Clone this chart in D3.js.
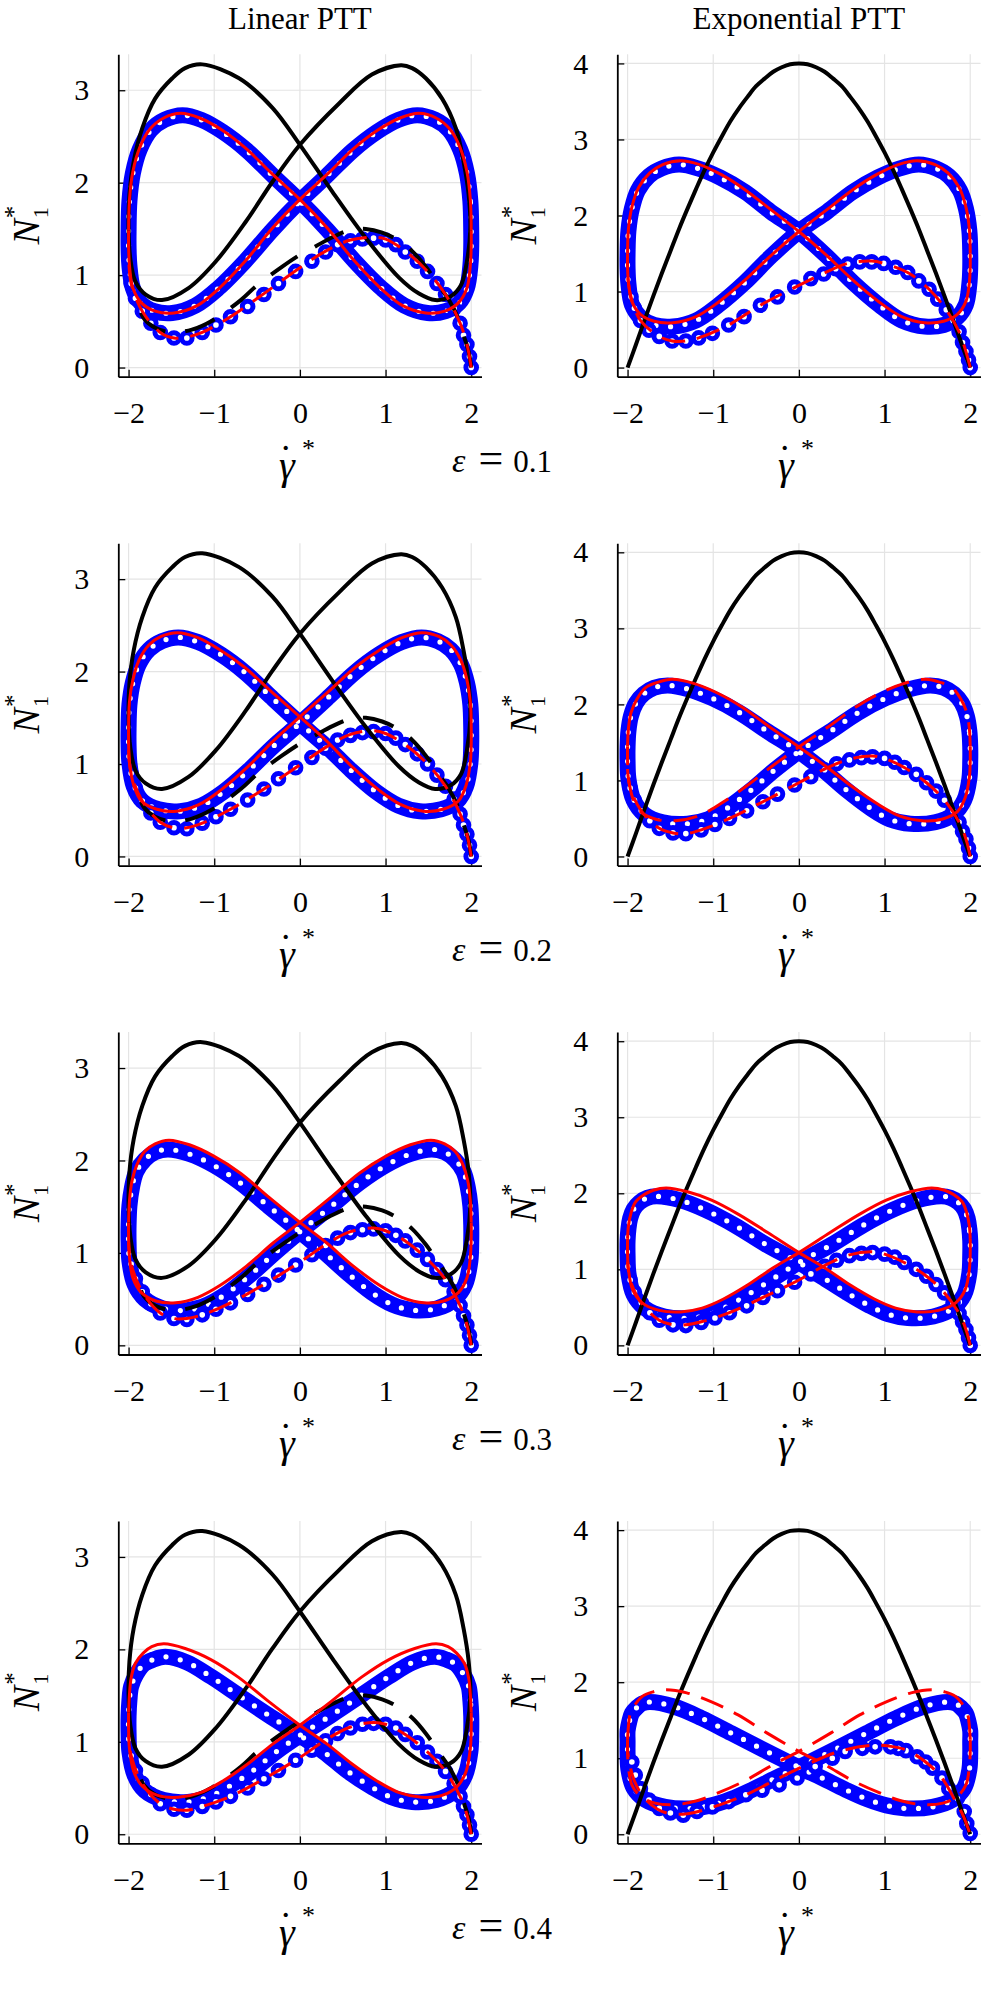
<!DOCTYPE html>
<html><head><meta charset="utf-8">
<script src="https://cdn.jsdelivr.net/npm/d3@7"></script>
<style>body{margin:0;background:#fff} svg text{font-family:'Liberation Serif','DejaVu Serif',serif}</style>
</head><body>
<script>
// ---------- data ----------
const modelTitles = ["Linear PTT", "Exponential PTT"];
const epsilonValues = ["0.1", "0.2", "0.3", "0.4"];
const rateTicks = [-2, -1, 0, 1, 2];
const n1TicksLinear = [0, 1, 2, 3];
const n1TicksExp = [0, 1, 2, 3, 4];

// black reference curves (same in every row)
const blackLoopLinear = [[-1.14,3.28],[-0.71,3.13],[-0.32,2.81],[0,2.41],[0.38,1.90],[0.77,1.40],[1.16,0.97],[1.39,0.80],[1.58,0.73],[1.76,0.77],[1.88,0.89],[1.95,1.15],[1.99,1.51],[1.97,1.87],[1.91,2.23],[1.82,2.59],[1.66,2.91],[1.47,3.13],[1.31,3.24],[1.18,3.27],[0.84,3.17],[0.46,2.86],[0,2.41],[-0.32,2.01],[-0.63,1.58],[-0.98,1.15],[-1.30,0.86],[-1.61,0.73],[-1.80,0.79],[-1.92,0.93],[-1.98,1.18],[-2.00,1.51],[-1.99,1.87],[-1.94,2.23],[-1.84,2.59],[-1.69,2.91],[-1.49,3.13],[-1.34,3.24]];
const blackStartLinear = [[2.00,0.00],[1.97,0.17],[1.91,0.35],[1.84,0.55],[1.74,0.73],[1.62,0.89],[1.47,1.09],[1.31,1.26],[1.14,1.38],[0.96,1.46],[0.77,1.50],[0.59,1.49],[0.38,1.41],[0.18,1.31],[0,1.22],[-0.21,1.09],[-0.50,0.89],[-0.69,0.73],[-1.02,0.51],[-1.26,0.41],[-1.49,0.38],[-1.69,0.43],[-1.82,0.53],[-1.90,0.71]];
const blackCurveExp = [[-2.0,0.00],[-1.9,0.31],[-1.8,0.63],[-1.7,0.94],[-1.6,1.24],[-1.5,1.53],[-1.4,1.82],[-1.3,2.09],[-1.2,2.35],[-1.1,2.60],[-1.0,2.83],[-0.9,3.04],[-0.8,3.24],[-0.7,3.41],[-0.6,3.56],[-0.5,3.70],[-0.4,3.80],[-0.3,3.89],[-0.2,3.95],[-0.1,3.99],[0.0,4.00],[0.1,3.99],[0.2,3.95],[0.3,3.89],[0.4,3.80],[0.5,3.70],[0.6,3.56],[0.7,3.41],[0.8,3.24],[0.9,3.04],[1.0,2.83],[1.1,2.60],[1.2,2.35],[1.3,2.09],[1.4,1.82],[1.5,1.53],[1.6,1.24],[1.7,0.94],[1.8,0.63],[1.9,0.31],[2.0,0.00]];

// eps = 0.1
const blueLoopLin01 = [[2.00,1.47],[1.99,1.80],[1.95,2.10],[1.87,2.36],[1.74,2.57],[1.58,2.68],[1.37,2.73],[1.15,2.68],[0.90,2.55],[0.62,2.35],[0.32,2.08],[0.00,1.80],[-0.32,1.49],[-0.64,1.15],[-0.95,0.86],[-1.22,0.67],[-1.49,0.59],[-1.70,0.61],[-1.86,0.70],[-1.95,0.86],[-1.99,1.10],[-2.00,1.30],
 [-2.00,1.47],[-1.99,1.80],[-1.95,2.10],[-1.87,2.36],[-1.74,2.57],[-1.58,2.68],[-1.37,2.73],[-1.15,2.68],[-0.90,2.55],[-0.62,2.35],[-0.32,2.08],[0.00,1.80],[0.32,1.49],[0.64,1.15],[0.95,0.86],[1.22,0.67],[1.49,0.59],[1.70,0.61],[1.86,0.70],[1.95,0.86],[1.99,1.10],[2.00,1.30]];
const redLoopLin01 = [[2.00,1.48],[1.99,1.81],[1.95,2.12],[1.87,2.38],[1.75,2.58],[1.59,2.70],[1.39,2.75],[1.17,2.70],[0.91,2.57],[0.63,2.37],[0.33,2.10],[0.00,1.82],[-0.32,1.51],[-0.63,1.16],[-0.94,0.86],[-1.20,0.67],[-1.47,0.59],[-1.69,0.61],[-1.85,0.70],[-1.95,0.86],[-1.99,1.11],[-2.00,1.31],
 [-2.00,1.48],[-1.99,1.81],[-1.95,2.12],[-1.87,2.38],[-1.75,2.58],[-1.59,2.70],[-1.39,2.75],[-1.17,2.70],[-0.91,2.57],[-0.63,2.37],[-0.33,2.10],[0.00,1.82],[0.32,1.51],[0.63,1.16],[0.94,0.86],[1.20,0.67],[1.47,0.59],[1.69,0.61],[1.85,0.70],[1.95,0.86],[1.99,1.11],[2.00,1.31]];
const blueStartLin01 = [[2.00,0.00],[1.98,0.12],[1.95,0.25],[1.91,0.35],[1.87,0.48],[1.80,0.64],[1.70,0.79],[1.60,0.91],[1.49,1.04],[1.37,1.15],[1.23,1.25],[1.12,1.33],[1.00,1.38],[0.86,1.40],[0.73,1.39],[0.59,1.37],[0.44,1.33],[0.30,1.25],[0.14,1.15],[-0.05,1.04],[-0.25,0.91],[-0.42,0.79],[-0.61,0.66],[-0.81,0.55],[-0.98,0.46],[-1.14,0.38],[-1.32,0.32],[-1.47,0.32],[-1.63,0.38],[-1.74,0.48],[-1.84,0.61],[-1.92,0.75],[-1.97,0.91]];
const redStartLin01 = [[2.00,0.00],[1.95,0.25],[1.87,0.48],[1.70,0.79],[1.49,1.04],[1.23,1.26],[1.00,1.39],[0.86,1.41],[0.59,1.38],[0.30,1.26],[0.00,1.08],[-0.42,0.80],[-0.81,0.55],[-1.14,0.38],[-1.32,0.33],[-1.47,0.32],[-1.63,0.38],[-1.84,0.61],[-1.97,0.91],[-2.00,1.20]];

const blueLoopExp01 = [[2.00,1.50],[1.99,1.80],[1.95,2.09],[1.88,2.33],[1.75,2.52],[1.60,2.62],[1.40,2.67],[1.18,2.62],[0.92,2.50],[0.63,2.31],[0.33,2.05],[0.00,1.79],[-0.32,1.47],[-0.63,1.12],[-0.94,0.82],[-1.20,0.62],[-1.47,0.54],[-1.69,0.56],[-1.85,0.66],[-1.95,0.83],[-1.99,1.10],[-2.00,1.31],
 [-2.00,1.50],[-1.99,1.80],[-1.95,2.09],[-1.88,2.33],[-1.75,2.52],[-1.60,2.62],[-1.40,2.67],[-1.18,2.62],[-0.92,2.50],[-0.63,2.31],[-0.33,2.05],[0.00,1.79],[0.32,1.47],[0.63,1.12],[0.94,0.82],[1.20,0.62],[1.47,0.54],[1.69,0.56],[1.85,0.66],[1.95,0.83],[1.99,1.10],[2.00,1.31]];
const redLoopExp01 = [[2.00,1.50],[1.99,1.82],[1.95,2.11],[1.87,2.37],[1.74,2.56],[1.59,2.67],[1.38,2.72],[1.16,2.67],[0.91,2.54],[0.63,2.34],[0.32,2.07],[0.00,1.79],[-0.32,1.48],[-0.63,1.15],[-0.94,0.86],[-1.20,0.67],[-1.47,0.59],[-1.69,0.61],[-1.85,0.70],[-1.95,0.87],[-1.99,1.12],[-2.00,1.32],
 [-2.00,1.50],[-1.99,1.82],[-1.95,2.11],[-1.87,2.37],[-1.74,2.56],[-1.59,2.67],[-1.38,2.72],[-1.16,2.67],[-0.91,2.54],[-0.63,2.34],[-0.32,2.07],[0.00,1.79],[0.32,1.48],[0.63,1.15],[0.94,0.86],[1.20,0.67],[1.47,0.59],[1.69,0.61],[1.85,0.70],[1.95,0.87],[1.99,1.12],[2.00,1.32]];
const blueStartExp01 = [[2.00,0.00],[1.98,0.10],[1.95,0.21],[1.91,0.33],[1.87,0.47],[1.80,0.62],[1.72,0.76],[1.62,0.90],[1.52,1.03],[1.40,1.14],[1.27,1.25],[1.13,1.32],[0.99,1.37],[0.85,1.39],[0.71,1.39],[0.57,1.36],[0.43,1.30],[0.29,1.23],[0.14,1.17],[-0.05,1.06],[-0.25,0.93],[-0.45,0.82],[-0.64,0.67],[-0.82,0.56],[-1.01,0.45],[-1.17,0.39],[-1.32,0.35],[-1.48,0.35],[-1.63,0.41],[-1.75,0.49],[-1.85,0.62],[-1.92,0.78],[-1.96,0.93]];
const redStartExp01 = [[2.00,0.00],[1.95,0.21],[1.87,0.47],[1.72,0.76],[1.52,1.03],[1.27,1.25],[0.99,1.37],[0.85,1.40],[0.57,1.37],[0.29,1.24],[0.00,1.08],[-0.45,0.82],[-0.82,0.56],[-1.17,0.39],[-1.32,0.35],[-1.48,0.35],[-1.63,0.41],[-1.85,0.62],[-1.96,0.93],[-2.00,1.20]];

// eps = 0.2
const blueLoopLin02 = [[2.00,1.38],[1.99,1.64],[1.95,1.88],[1.88,2.08],[1.76,2.24],[1.61,2.33],[1.42,2.37],[1.19,2.32],[0.93,2.19],[0.64,1.99],[0.33,1.72],[0.00,1.44],[-0.30,1.20],[-0.60,0.93],[-0.89,0.70],[-1.15,0.55],[-1.40,0.49],[-1.65,0.51],[-1.84,0.60],[-1.94,0.76],[-1.99,1.01],[-2.00,1.21],
 [-2.00,1.38],[-1.99,1.64],[-1.95,1.88],[-1.88,2.08],[-1.76,2.24],[-1.61,2.33],[-1.42,2.37],[-1.19,2.32],[-0.93,2.19],[-0.64,1.99],[-0.33,1.72],[0.00,1.44],[0.30,1.20],[0.60,0.93],[0.89,0.70],[1.15,0.55],[1.40,0.49],[1.65,0.51],[1.84,0.60],[1.94,0.76],[1.99,1.01],[2.00,1.21]];
const redLoopLin02 = [[2.00,1.40],[1.99,1.67],[1.95,1.91],[1.88,2.12],[1.76,2.29],[1.62,2.38],[1.43,2.42],[1.20,2.37],[0.94,2.24],[0.65,2.05],[0.33,1.78],[0.00,1.51],[-0.31,1.25],[-0.62,0.96],[-0.92,0.72],[-1.18,0.56],[-1.44,0.49],[-1.67,0.51],[-1.85,0.60],[-1.94,0.77],[-1.99,1.02],[-2.00,1.23],
 [-2.00,1.40],[-1.99,1.67],[-1.95,1.91],[-1.88,2.12],[-1.76,2.29],[-1.62,2.38],[-1.43,2.42],[-1.20,2.37],[-0.94,2.24],[-0.65,2.05],[-0.33,1.78],[0.00,1.51],[0.31,1.25],[0.62,0.96],[0.92,0.72],[1.18,0.56],[1.44,0.49],[1.67,0.51],[1.85,0.60],[1.94,0.77],[1.99,1.02],[2.00,1.23]];
const blueStartLin02 = [[2.00,0.00],[1.98,0.12],[1.95,0.24],[1.91,0.34],[1.87,0.46],[1.80,0.62],[1.70,0.76],[1.60,0.88],[1.49,1.00],[1.37,1.11],[1.23,1.21],[1.12,1.28],[1.00,1.33],[0.86,1.35],[0.73,1.34],[0.59,1.31],[0.44,1.26],[0.30,1.17],[0.14,1.07],[-0.05,0.96],[-0.25,0.84],[-0.42,0.73],[-0.61,0.61],[-0.81,0.51],[-0.98,0.43],[-1.14,0.36],[-1.32,0.30],[-1.47,0.31],[-1.63,0.37],[-1.74,0.47],[-1.84,0.60],[-1.92,0.74],[-1.97,0.90]];
const redStartLin02 = [[2.00,0.00],[1.95,0.24],[1.87,0.46],[1.70,0.76],[1.49,1.00],[1.23,1.21],[1.00,1.33],[0.86,1.36],[0.59,1.32],[0.30,1.18],[0.00,0.99],[-0.42,0.73],[-0.81,0.51],[-1.14,0.36],[-1.32,0.31],[-1.47,0.31],[-1.63,0.37],[-1.84,0.60],[-1.97,0.90],[-2.00,1.15]];

const blueLoopExp02 = [[2.00,1.44],[1.99,1.65],[1.96,1.85],[1.90,2.02],[1.81,2.14],[1.69,2.22],[1.53,2.25],[1.29,2.20],[1.01,2.08],[0.69,1.89],[0.36,1.64],[0.00,1.38],[-0.28,1.14],[-0.56,0.87],[-0.83,0.64],[-1.06,0.49],[-1.30,0.43],[-1.59,0.45],[-1.81,0.56],[-1.93,0.74],[-1.99,1.02],[-2.00,1.25],
 [-2.00,1.44],[-1.99,1.65],[-1.96,1.85],[-1.90,2.02],[-1.81,2.14],[-1.69,2.22],[-1.53,2.25],[-1.29,2.20],[-1.01,2.08],[-0.69,1.89],[-0.36,1.64],[0.00,1.38],[0.28,1.14],[0.56,0.87],[0.83,0.64],[1.06,0.49],[1.30,0.43],[1.59,0.45],[1.81,0.56],[1.93,0.74],[1.99,1.02],[2.00,1.25]];
const redLoopExp02 = [[2.00,1.45],[1.99,1.68],[1.96,1.89],[1.89,2.07],[1.79,2.22],[1.65,2.29],[1.48,2.33],[1.24,2.28],[0.97,2.16],[0.67,1.97],[0.35,1.71],[0.00,1.44],[-0.31,1.19],[-0.62,0.92],[-0.92,0.69],[-1.18,0.53],[-1.44,0.47],[-1.67,0.49],[-1.85,0.59],[-1.94,0.77],[-1.99,1.04],[-2.00,1.26],
 [-2.00,1.45],[-1.99,1.68],[-1.96,1.89],[-1.89,2.07],[-1.79,2.22],[-1.65,2.29],[-1.48,2.33],[-1.24,2.28],[-0.97,2.16],[-0.67,1.97],[-0.35,1.71],[0.00,1.44],[0.31,1.19],[0.62,0.92],[0.92,0.69],[1.18,0.53],[1.44,0.47],[1.67,0.49],[1.85,0.59],[1.94,0.77],[1.99,1.04],[2.00,1.26]];
const blueStartExp02 = [[2.00,0.00],[1.98,0.11],[1.95,0.23],[1.91,0.33],[1.87,0.45],[1.80,0.60],[1.70,0.74],[1.60,0.86],[1.49,0.97],[1.37,1.08],[1.23,1.17],[1.12,1.24],[1.00,1.29],[0.86,1.31],[0.73,1.30],[0.59,1.27],[0.44,1.22],[0.30,1.14],[0.14,1.05],[-0.05,0.94],[-0.25,0.82],[-0.42,0.72],[-0.61,0.60],[-0.81,0.50],[-0.98,0.42],[-1.14,0.35],[-1.32,0.30],[-1.47,0.31],[-1.63,0.37],[-1.74,0.47],[-1.84,0.60],[-1.92,0.74],[-1.97,0.90]];
const redStartExp02 = [[2.00,0.00],[1.95,0.23],[1.87,0.45],[1.70,0.74],[1.49,0.97],[1.23,1.17],[1.00,1.29],[0.86,1.32],[0.59,1.28],[0.30,1.15],[0.00,0.97],[-0.42,0.72],[-0.81,0.50],[-1.14,0.35],[-1.32,0.30],[-1.47,0.31],[-1.63,0.37],[-1.84,0.60],[-1.97,0.90],[-2.00,1.15]];

// eps = 0.3
const blueLoopLin03 = [[2.00,1.30],[1.99,1.51],[1.96,1.71],[1.91,1.88],[1.81,2.01],[1.69,2.09],[1.54,2.12],[1.29,2.07],[1.01,1.95],[0.70,1.76],[0.36,1.50],[0.00,1.23],[-0.28,1.01],[-0.57,0.77],[-0.84,0.57],[-1.08,0.44],[-1.32,0.38],[-1.60,0.40],[-1.81,0.50],[-1.93,0.66],[-1.99,0.91],[-2.00,1.12],
 [-2.00,1.30],[-1.99,1.51],[-1.96,1.71],[-1.91,1.88],[-1.81,2.01],[-1.69,2.09],[-1.54,2.12],[-1.29,2.07],[-1.01,1.95],[-0.70,1.76],[-0.36,1.50],[0.00,1.23],[0.28,1.01],[0.57,0.77],[0.84,0.57],[1.08,0.44],[1.32,0.38],[1.60,0.40],[1.81,0.50],[1.93,0.66],[1.99,0.91],[2.00,1.12]];
const redLoopLin03 = [[2.00,1.33],[1.99,1.56],[1.96,1.78],[1.90,1.96],[1.81,2.10],[1.69,2.18],[1.53,2.22],[1.29,2.17],[1.01,2.05],[0.69,1.86],[0.36,1.60],[0.00,1.33],[-0.31,1.11],[-0.62,0.86],[-0.93,0.65],[-1.19,0.52],[-1.45,0.46],[-1.68,0.48],[-1.85,0.57],[-1.95,0.73],[-1.99,0.96],[-2.00,1.16],
 [-2.00,1.33],[-1.99,1.56],[-1.96,1.78],[-1.90,1.96],[-1.81,2.10],[-1.69,2.18],[-1.53,2.22],[-1.29,2.17],[-1.01,2.05],[-0.69,1.86],[-0.36,1.60],[0.00,1.33],[0.31,1.11],[0.62,0.86],[0.93,0.65],[1.19,0.52],[1.45,0.46],[1.68,0.48],[1.85,0.57],[1.95,0.73],[1.99,0.96],[2.00,1.16]];
const blueStartLin03 = [[2.00,0.00],[1.98,0.11],[1.95,0.22],[1.91,0.32],[1.87,0.43],[1.80,0.58],[1.70,0.71],[1.60,0.82],[1.49,0.93],[1.37,1.03],[1.23,1.13],[1.12,1.19],[1.00,1.24],[0.86,1.26],[0.73,1.25],[0.59,1.22],[0.44,1.16],[0.30,1.08],[0.14,0.98],[-0.05,0.87],[-0.25,0.76],[-0.42,0.66],[-0.61,0.55],[-0.81,0.46],[-0.98,0.39],[-1.14,0.33],[-1.32,0.28],[-1.47,0.29],[-1.63,0.35],[-1.74,0.45],[-1.84,0.58],[-1.92,0.72],[-1.97,0.88]];
const redStartLin03 = [[2.00,0.00],[1.95,0.22],[1.87,0.43],[1.70,0.71],[1.49,0.93],[1.23,1.13],[1.00,1.24],[0.86,1.27],[0.59,1.23],[0.30,1.09],[0.00,0.90],[-0.42,0.66],[-0.81,0.46],[-1.14,0.33],[-1.32,0.29],[-1.47,0.29],[-1.63,0.35],[-1.84,0.58],[-1.97,0.88],[-2.00,1.12]];

const blueLoopExp03 = [[2.00,1.38],[1.99,1.53],[1.97,1.67],[1.93,1.79],[1.86,1.88],[1.77,1.94],[1.66,1.96],[1.39,1.91],[1.09,1.78],[0.75,1.58],[0.39,1.33],[0.00,1.09],[-0.27,0.90],[-0.55,0.70],[-0.81,0.53],[-1.04,0.41],[-1.27,0.36],[-1.57,0.38],[-1.80,0.49],[-1.93,0.67],[-1.99,0.95],[-2.00,1.18],
 [-2.00,1.38],[-1.99,1.53],[-1.97,1.67],[-1.93,1.79],[-1.86,1.88],[-1.77,1.94],[-1.66,1.96],[-1.39,1.91],[-1.09,1.78],[-0.75,1.58],[-0.39,1.33],[0.00,1.09],[0.27,0.90],[0.55,0.70],[0.81,0.53],[1.04,0.41],[1.27,0.36],[1.57,0.38],[1.80,0.49],[1.93,0.67],[1.99,0.95],[2.00,1.18]];
const redLoopExp03 = [[2.00,1.40],[1.99,1.57],[1.96,1.74],[1.91,1.88],[1.81,1.98],[1.70,2.04],[1.55,2.07],[1.30,2.02],[1.02,1.91],[0.70,1.72],[0.36,1.48],[0.00,1.22],[-0.30,1.02],[-0.59,0.80],[-0.88,0.61],[-1.13,0.49],[-1.38,0.44],[-1.63,0.46],[-1.83,0.56],[-1.94,0.73],[-1.99,1.00],[-2.00,1.21],
 [-2.00,1.40],[-1.99,1.57],[-1.96,1.74],[-1.91,1.88],[-1.81,1.98],[-1.70,2.04],[-1.55,2.07],[-1.30,2.02],[-1.02,1.91],[-0.70,1.72],[-0.36,1.48],[0.00,1.22],[0.30,1.02],[0.59,0.80],[0.88,0.61],[1.13,0.49],[1.38,0.44],[1.63,0.46],[1.83,0.56],[1.94,0.73],[1.99,1.00],[2.00,1.21]];
const blueStartExp03 = [[2.00,0.00],[1.98,0.10],[1.95,0.21],[1.91,0.31],[1.87,0.42],[1.80,0.56],[1.70,0.69],[1.60,0.80],[1.49,0.91],[1.37,1.00],[1.23,1.09],[1.12,1.16],[1.00,1.20],[0.86,1.22],[0.73,1.21],[0.59,1.18],[0.44,1.12],[0.30,1.04],[0.14,0.94],[-0.05,0.83],[-0.25,0.72],[-0.42,0.63],[-0.61,0.52],[-0.81,0.43],[-0.98,0.36],[-1.14,0.30],[-1.32,0.26],[-1.47,0.27],[-1.63,0.33],[-1.74,0.43],[-1.84,0.56],[-1.92,0.70],[-1.97,0.86]];
const redStartExp03 = [[2.00,0.00],[1.95,0.21],[1.87,0.42],[1.70,0.69],[1.49,0.91],[1.23,1.09],[1.00,1.20],[0.86,1.23],[0.59,1.19],[0.30,1.05],[0.00,0.86],[-0.42,0.63],[-0.81,0.43],[-1.14,0.31],[-1.32,0.27],[-1.47,0.27],[-1.63,0.33],[-1.84,0.56],[-1.97,0.86],[-2.00,1.10]];

// eps = 0.4
const blueLoopLin04 = [[2.00,1.28],[1.99,1.45],[1.97,1.60],[1.91,1.73],[1.82,1.84],[1.71,1.89],[1.57,1.92],[1.32,1.86],[1.03,1.70],[0.71,1.50],[0.37,1.29],[0.00,1.07],[-0.28,0.89],[-0.56,0.68],[-0.84,0.51],[-1.07,0.40],[-1.31,0.35],[-1.59,0.37],[-1.81,0.47],[-1.93,0.64],[-1.99,0.89],[-2.00,1.10],
 [-2.00,1.28],[-1.99,1.45],[-1.97,1.60],[-1.91,1.73],[-1.82,1.84],[-1.71,1.89],[-1.57,1.92],[-1.32,1.86],[-1.03,1.70],[-0.71,1.50],[-0.37,1.29],[0.00,1.07],[0.28,0.89],[0.56,0.68],[0.84,0.51],[1.07,0.40],[1.31,0.35],[1.59,0.37],[1.81,0.47],[1.93,0.64],[1.99,0.89],[2.00,1.10]];
const redLoopLin04 = [[2.00,1.32],[1.99,1.51],[1.97,1.69],[1.92,1.85],[1.83,1.96],[1.73,2.03],[1.59,2.06],[1.34,2.01],[1.04,1.89],[0.72,1.70],[0.37,1.44],[0.00,1.18],[-0.31,0.98],[-0.61,0.76],[-0.91,0.57],[-1.16,0.45],[-1.42,0.40],[-1.66,0.42],[-1.84,0.52],[-1.94,0.68],[-1.99,0.93],[-2.00,1.14],
 [-2.00,1.32],[-1.99,1.51],[-1.97,1.69],[-1.92,1.85],[-1.83,1.96],[-1.73,2.03],[-1.59,2.06],[-1.34,2.01],[-1.04,1.89],[-0.72,1.70],[-0.37,1.44],[0.00,1.18],[0.31,0.98],[0.61,0.76],[0.91,0.57],[1.16,0.45],[1.42,0.40],[1.66,0.42],[1.84,0.52],[1.94,0.68],[1.99,0.93],[2.00,1.14]];
const blueStartLin04 = [[2.00,0.00],[1.98,0.10],[1.95,0.21],[1.91,0.30],[1.87,0.41],[1.80,0.55],[1.70,0.68],[1.60,0.79],[1.49,0.89],[1.37,0.99],[1.23,1.08],[1.12,1.15],[1.00,1.19],[0.86,1.20],[0.73,1.19],[0.59,1.15],[0.44,1.09],[0.30,1.01],[0.14,0.91],[-0.05,0.80],[-0.25,0.69],[-0.42,0.60],[-0.61,0.50],[-0.81,0.41],[-0.98,0.35],[-1.14,0.30],[-1.32,0.26],[-1.47,0.27],[-1.63,0.33],[-1.74,0.43],[-1.84,0.55],[-1.92,0.69],[-1.97,0.85]];
const redStartLin04 = [[2.00,0.00],[1.95,0.21],[1.87,0.41],[1.70,0.68],[1.49,0.89],[1.23,1.08],[1.00,1.19],[0.86,1.21],[0.59,1.16],[0.30,1.02],[0.00,0.83],[-0.42,0.60],[-0.81,0.41],[-1.14,0.30],[-1.32,0.26],[-1.47,0.27],[-1.63,0.33],[-1.84,0.55],[-1.97,0.85],[-2.00,1.08]];

const blueLoopExp04 = [[2.00,1.22],[2.00,1.36],[1.98,1.48],[1.95,1.59],[1.89,1.67],[1.83,1.72],[1.74,1.74],[1.46,1.68],[1.14,1.53],[0.79,1.33],[0.41,1.11],[0.00,0.88],[-0.27,0.74],[-0.54,0.59],[-0.80,0.46],[-1.02,0.38],[-1.25,0.34],[-1.56,0.36],[-1.79,0.45],[-1.93,0.61],[-1.99,0.85],[-2.00,1.05],
 [-2.00,1.22],[-2.00,1.36],[-1.98,1.48],[-1.95,1.59],[-1.89,1.67],[-1.83,1.72],[-1.74,1.74],[-1.46,1.68],[-1.14,1.53],[-0.79,1.33],[-0.41,1.11],[0.00,0.88],[0.27,0.74],[0.54,0.59],[0.80,0.46],[1.02,0.38],[1.25,0.34],[1.56,0.36],[1.79,0.45],[1.93,0.61],[1.99,0.85],[2.00,1.05]];
const redLoopExp04 = [[2.00,1.25],[1.99,1.42],[1.97,1.58],[1.91,1.71],[1.82,1.82],[1.71,1.87],[1.56,1.90],[1.31,1.86],[1.02,1.74],[0.71,1.57],[0.37,1.33],[0.00,1.09],[-0.31,0.91],[-0.62,0.71],[-0.93,0.55],[-1.19,0.44],[-1.45,0.39],[-1.68,0.41],[-1.85,0.50],[-1.95,0.65],[-1.99,0.89],[-2.00,1.08],
 [-2.00,1.25],[-1.99,1.42],[-1.97,1.58],[-1.91,1.71],[-1.82,1.82],[-1.71,1.87],[-1.56,1.90],[-1.31,1.86],[-1.02,1.74],[-0.71,1.57],[-0.37,1.33],[0.00,1.09],[0.31,0.91],[0.62,0.71],[0.93,0.55],[1.19,0.44],[1.45,0.39],[1.68,0.41],[1.85,0.50],[1.95,0.65],[1.99,0.89],[2.00,1.08]];
const blueStartExp04 = [[2.00,0.01],[1.96,0.14],[1.93,0.30],[1.85,0.47],[1.75,0.60],[1.67,0.74],[1.56,0.87],[1.48,0.95],[1.38,1.02],[1.25,1.10],[1.16,1.13],[1.07,1.15],[0.89,1.15],[0.74,1.13],[0.54,1.09],[0.39,1.00],[0.19,0.89],[-0.02,0.74],[-0.23,0.65],[-0.43,0.58],[-0.62,0.52],[-0.82,0.43],[-1.01,0.36],[-1.19,0.30],[-1.35,0.25],[-1.50,0.28],[-1.63,0.34],[-1.75,0.45],[-1.85,0.60],[-1.91,0.78],[-1.95,0.95]];
const redStartExp04 = [[1.99,0.03],[1.92,0.24],[1.83,0.43],[1.67,0.74],[1.48,0.95],[1.25,1.11],[1.05,1.16],[0.86,1.17],[0.47,1.09],[0.08,0.91],[-0.23,0.74],[-0.62,0.52],[-1.05,0.34],[-1.30,0.27],[-1.50,0.27],[-1.65,0.33],[-1.80,0.47],[-1.92,0.70],[-1.98,0.95],[-2.00,1.10]];

// ---------- layout ----------
const W = 997, H = 1993;
const rowPitch = 488.9, top0 = 54.3, plotH = 322.4;
const colX = [118.3, 617.3], plotW = 363.2;
const FONT = "'Liberation Serif','DejaVu Serif',serif";

const panels = [
  {row:0,col:0,bl:blueLoopLin01,bs:blueStartLin01,rl:redLoopLin01,rs:redStartLin01,dashA:false,dashB:false},
  {row:0,col:1,bl:blueLoopExp01,bs:blueStartExp01,rl:redLoopExp01,rs:redStartExp01,dashA:false,dashB:false},
  {row:1,col:0,bl:blueLoopLin02,bs:blueStartLin02,rl:redLoopLin02,rs:redStartLin02,dashA:false,dashB:false},
  {row:1,col:1,bl:blueLoopExp02,bs:blueStartExp02,rl:redLoopExp02,rs:redStartExp02,dashA:true,dashB:false},
  {row:2,col:0,bl:blueLoopLin03,bs:blueStartLin03,rl:redLoopLin03,rs:redStartLin03,dashA:false,dashB:false},
  {row:2,col:1,bl:blueLoopExp03,bs:blueStartExp03,rl:redLoopExp03,rs:redStartExp03,dashA:false,dashB:false},
  {row:3,col:0,bl:blueLoopLin04,bs:blueStartLin04,rl:redLoopLin04,rs:redStartLin04,dashA:false,dashB:false},
  {row:3,col:1,bl:blueLoopExp04,bs:blueStartExp04,rl:redLoopExp04,rs:redStartExp04,dashA:true,dashB:true}
];

const svg = d3.select("body").append("svg").attr("width", W).attr("height", H)
  .attr("font-family", FONT);
svg.append("rect").attr("width", W).attr("height", H).attr("fill", "#fff");

function txt(sel) { return sel.attr("font-family", FONT).style("font-family", FONT).attr("fill", "#000"); }

// column titles
modelTitles.forEach((t, i) => {
  txt(svg.append("text")).attr("x", colX[i] + plotW / 2).attr("y", 29)
    .attr("text-anchor", "middle").attr("font-size", 31).text(t);
});

const intFmt = d3.format("d");

function drawPanel(p) {
  const x0 = colX[p.col], y0 = top0 + p.row * rowPitch;
  const x = d3.scaleLinear().domain([-2.12, 2.12]).range([x0, x0 + plotW]);
  const y = d3.scaleLinear().domain(p.col === 0 ? [-0.099, 3.389] : [-0.12, 4.12]).range([y0 + plotH, y0]);
  const yTicks = p.col === 0 ? n1TicksLinear : n1TicksExp;
  const g = svg.append("g");

  // grid
  g.append("g").selectAll("line").data(rateTicks).join("line")
    .attr("x1", d => x(d)).attr("x2", d => x(d)).attr("y1", y0).attr("y2", y0 + plotH)
    .attr("stroke", "#e4e4e4").attr("stroke-width", 1.2);
  g.append("g").selectAll("line").data(yTicks).join("line")
    .attr("x1", x0).attr("x2", x0 + plotW).attr("y1", d => y(d)).attr("y2", d => y(d))
    .attr("stroke", "#e4e4e4").attr("stroke-width", 1.2);

  // axes
  const ax = g.append("g").attr("transform", `translate(0,${y0 + plotH})`)
    .call(d3.axisBottom(x).tickValues(rateTicks).tickFormat(intFmt).tickSizeInner(-7).tickSizeOuter(0).tickPadding(25));
  const ay = g.append("g").attr("transform", `translate(${x0},0)`)
    .call(d3.axisLeft(y).tickValues(yTicks).tickFormat(intFmt).tickSizeInner(-7).tickSizeOuter(0).tickPadding(29));
  [ax, ay].forEach(a => {
    a.attr("font-family", FONT).attr("font-size", 30);
    a.select(".domain").attr("stroke", "#000").attr("stroke-width", 1.8);
    a.selectAll(".tick line").attr("stroke", "#000").attr("stroke-width", 1.3);
    txt(a.selectAll(".tick text")).attr("font-size", 30);
  });

  const closed = d3.line().x(d => x(d[0])).y(d => y(d[1])).curve(d3.curveCatmullRomClosed.alpha(0.5));
  const open = d3.line().x(d => x(d[0])).y(d => y(d[1])).curve(d3.curveCatmullRom.alpha(0.5));

  // blue: steady loop band + white marker centres
  g.append("path").attr("d", closed(p.bl)).attr("fill", "none")
    .attr("stroke", "#0000ff").attr("stroke-width", 16).attr("stroke-linejoin", "round");
  g.append("path").attr("d", closed(p.bl)).attr("fill", "none")
    .attr("stroke", "#fff").attr("stroke-width", 5.2).attr("stroke-linecap", "round")
    .attr("stroke-dasharray", "0 14.6");
  // blue: start-up markers
  g.append("g").selectAll("circle").data(p.bs).join("circle")
    .attr("cx", d => x(d[0])).attr("cy", d => y(d[1])).attr("r", 5.3)
    .attr("fill", "#fff").attr("stroke", "#0000ff").attr("stroke-width", 5);

  // black
  if (p.col === 0) {
    g.append("path").attr("d", closed(blackLoopLinear)).attr("fill", "none")
      .attr("stroke", "#000").attr("stroke-width", 4);
    g.append("path").attr("d", open(blackStartLinear)).attr("fill", "none")
      .attr("stroke", "#000").attr("stroke-width", 4).attr("stroke-dasharray", "32 20");
  } else {
    g.append("path").attr("d", open(blackCurveExp)).attr("fill", "none")
      .attr("stroke", "#000").attr("stroke-width", 4);
  }

  // red
  const n = p.rl.length, half = n / 2;
  const segA = p.rl.slice(0, half).concat([p.rl[half]]);
  const segB = p.rl.slice(half).concat([p.rl[0]]);
  [[segA, p.dashA], [segB, p.dashB]].forEach(([seg, dashed]) => {
    g.append("path").attr("d", open(seg)).attr("fill", "none")
      .attr("stroke", "#ff0000").attr("stroke-width", 3)
      .attr("stroke-dasharray", dashed ? "24 12" : null);
  });
  g.append("path").attr("d", open(p.rs)).attr("fill", "none")
    .attr("stroke", "#ff0000").attr("stroke-width", 3).attr("stroke-dasharray", "24 12");

  // y label N1*
  const ylx = p.col === 0 ? 39 : 535.5;
  const yl = svg.append("g").attr("transform", `translate(${ylx},${222.5 + p.row * rowPitch}) rotate(-90)`);
  const ylt = txt(yl.append("text")).attr("x", -22).attr("y", 0).attr("font-size", 38);
  ylt.append("tspan").attr("font-style", "italic").text("N");
  ylt.append("tspan").attr("font-size", 22).attr("dx", 1).attr("dy", 9).text("1");
  ylt.append("tspan").attr("font-size", 25).attr("dx", -11).attr("dy", -26).text("*");

  // x label (gamma dot star) as one text with positioned parts
  const cx = x0 + plotW / 2, by = p.row * rowPitch;
  const xl = txt(svg.append("text")).attr("font-size", 40);
  xl.append("tspan").attr("x", cx - 21).attr("y", 479 + by).attr("font-style", "italic").text("γ");
  xl.append("tspan").attr("x", cx - 21).attr("y", 472 + by).text("˙");
  xl.append("tspan").attr("x", cx + 2).attr("y", 457 + by).attr("font-size", 26).text("*");

  // epsilon annotation
  if (p.col === 0) {
    const t = txt(svg.append("text")).attr("x", 452).attr("y", 472 + by).attr("font-size", 32);
    t.append("tspan").attr("font-style", "italic").attr("font-size", 34).text("ε");
    t.append("tspan").attr("font-size", 44).attr("dx", 13).attr("dy", 1).text("=");
    t.append("tspan").attr("font-size", 31).attr("dx", 10).attr("dy", -1).text(epsilonValues[p.row]);
  }
}

panels.forEach(drawPanel);
</script>
</body></html>
